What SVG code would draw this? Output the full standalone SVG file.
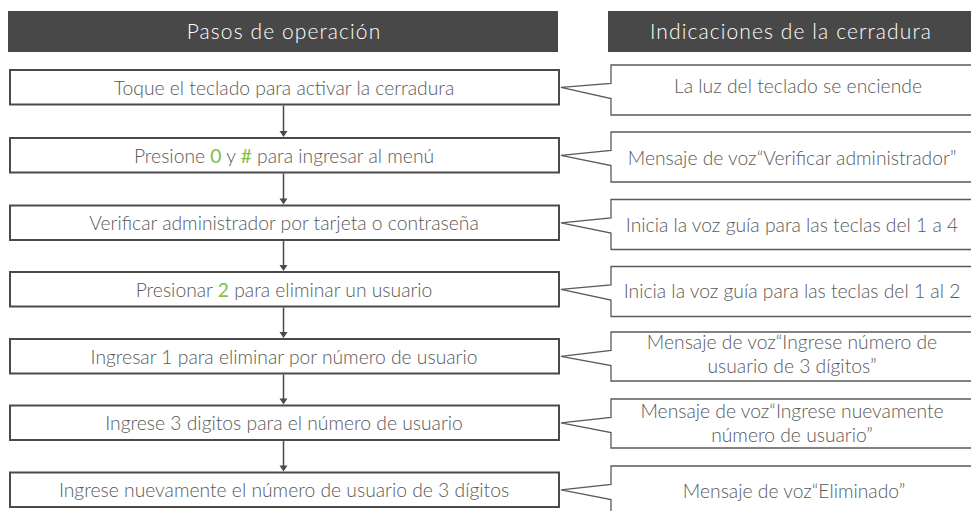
<svg xmlns="http://www.w3.org/2000/svg" width="971" height="511" viewBox="0 0 971 511">
<style>
.hdr{fill:#484848}
.htxt{font-family:Lato,"Open Sans","Liberation Sans",sans-serif;font-size:21px;font-weight:300;fill:#ffffff;letter-spacing:1.1px;text-anchor:middle}
.box{fill:#ffffff;stroke:#4a4a4a;stroke-width:2}
.call{fill:#ffffff;stroke:#5a5a5a;stroke-width:1.3;stroke-linejoin:miter}
.txt{font-family:Lato,"Open Sans","Liberation Sans",sans-serif;font-size:19.3px;font-weight:300;fill:#595959;text-anchor:middle}
.g{fill:#7dc142;font-weight:400}
.conn line{stroke:#4a4a4a;stroke-width:1.5}
.conn polygon{fill:#4a4a4a}
</style>
<rect width="971" height="511" fill="#ffffff"/>
<g id="header-steps">
<rect class="hdr" x="8" y="11" width="550" height="41"/>
<text class="htxt" x="284" y="38.5">Pasos de operación</text>
</g>
<g id="header-indications">
<rect class="hdr" x="608" y="11" width="368" height="41"/>
<text class="htxt" x="791" y="38.5">Indicaciones de la cerradura</text>
</g>
<g class="conn" id="connectors">
<line x1="283.5" y1="105.5" x2="283.5" y2="132"/><polygon points="283.5,137 279.5,131 287.5,131"/>
<line x1="283.5" y1="173.5" x2="283.5" y2="199.5"/><polygon points="283.5,204.5 279.5,198.5 287.5,198.5"/>
<line x1="283.5" y1="241" x2="283.5" y2="266"/><polygon points="283.5,271 279.5,265 287.5,265"/>
<line x1="283.5" y1="307.5" x2="283.5" y2="333"/><polygon points="283.5,338 279.5,332 287.5,332"/>
<line x1="283.5" y1="374.5" x2="283.5" y2="399.5"/><polygon points="283.5,404.5 279.5,398.5 287.5,398.5"/>
<line x1="283.5" y1="441" x2="283.5" y2="466.5"/><polygon points="283.5,471.5 279.5,465.5 287.5,465.5"/>
</g>
<g id="step1">
<rect class="box" x="10" y="70" width="549" height="34.5"/>
<text class="txt" x="284" y="94.5">Toque el teclado para activar la cerradura</text>
</g>
<g id="step2">
<rect class="box" x="10" y="138" width="549" height="34.5"/>
<text class="txt" x="284" y="162.5">Presione <tspan class="g">0</tspan> y <tspan class="g">#</tspan> para ingresar al menú</text>
</g>
<g id="step3">
<rect class="box" x="10" y="205.5" width="549" height="34.5"/>
<text class="txt" x="284" y="230">Verificar administrador por tarjeta o contraseña</text>
</g>
<g id="step4">
<rect class="box" x="10" y="272" width="549" height="34.5"/>
<text class="txt" x="284" y="296.5">Presionar <tspan class="g">2</tspan> para eliminar un usuario</text>
</g>
<g id="step5">
<rect class="box" x="10" y="339" width="549" height="34.5"/>
<text class="txt" x="284" y="363.5">Ingresar 1 para eliminar por número de usuario</text>
</g>
<g id="step6">
<rect class="box" x="10" y="405.5" width="549" height="34.5"/>
<text class="txt" x="284" y="430">Ingrese 3 digitos para el número de usuario</text>
</g>
<g id="step7">
<rect class="box" x="10" y="472.5" width="549" height="34.5"/>
<text class="txt" x="284" y="497">Ingrese nuevamente el número de usuario de 3 dígitos</text>
</g>
<g id="ind1">
<path class="call" d="M611,65 H976 V115 H611 V98.5 L561,87.3 L611,83.5 Z"/>
<text class="txt" x="798" y="93">La luz del teclado se enciende</text>
</g>
<g id="ind2">
<path class="call" d="M611,132 H976 V182 H611 V165.5 L561,155.3 L611,150.5 Z"/>
<text class="txt" x="792" y="165">Mensaje de voz“Verificar administrador”</text>
</g>
<g id="ind3">
<path class="call" d="M611,199.5 H976 V249.5 H611 V233 L561,222.8 L611,218 Z"/>
<text class="txt" x="792" y="231.7">Inicia la voz guía para las teclas del 1 a 4</text>
</g>
<g id="ind4">
<path class="call" d="M611,266.5 H976 V316.5 H611 V300 L561,289.3 L611,285 Z"/>
<text class="txt" x="792" y="298.3">Inicia la voz guía para las teclas del 1 al 2</text>
</g>
<g id="ind5">
<path class="call" d="M611,332 H976 V381 H611 V365.5 L561,356.3 L611,350.5 Z"/>
<text class="txt" x="792" y="349">Mensaje de voz“Ingrese número de</text>
<text class="txt" x="792" y="373">usuario de 3 dígitos”</text>
</g>
<g id="ind6">
<path class="call" d="M611,399 H976 V448 H611 V432.5 L561,422.8 L611,417.5 Z"/>
<text class="txt" x="792" y="418.3">Mensaje de voz“Ingrese nuevamente</text>
<text class="txt" x="792" y="442">número de usuario”</text>
</g>
<g id="ind7">
<path class="call" d="M611,466 H976 V520 H611 V499.5 L561,489.8 L611,484.5 Z"/>
<text class="txt" x="794" y="498.3">Mensaje de voz“Eliminado”</text>
</g>
</svg>
